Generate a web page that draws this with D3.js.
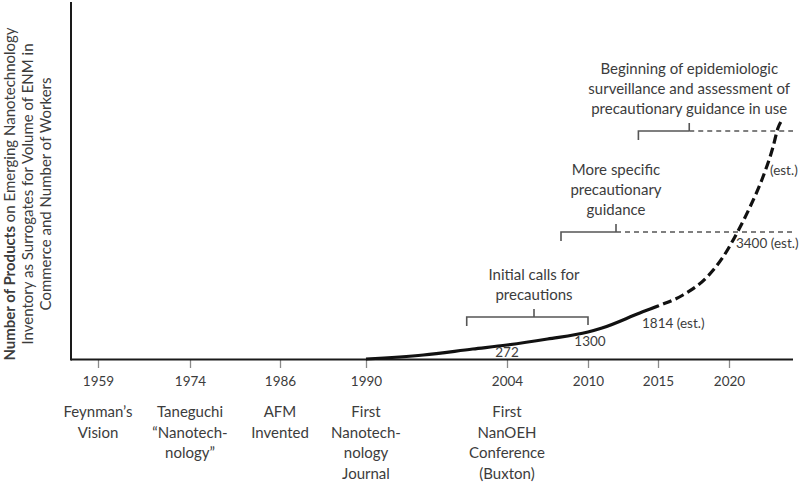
<!DOCTYPE html>
<html><head><meta charset="utf-8">
<script src="https://cdn.jsdelivr.net/npm/d3@7/dist/d3.min.js"></script>
<style>
body{margin:0;background:#fff;}
svg text{font-family:Lato,"Open Sans",sans-serif;fill:#3c3c3c;}
</style></head>
<body><svg id="c" width="800" height="483"></svg>
<script>
// ---- data ----
const tickYears = [1959, 1974, 1986, 1990, 2004, 2010, 2015, 2020];
const eventLabels = [
  ["Feynman\u2019s", "Vision"],
  ["Taneguchi", "\u201cNanotech-", "nology\u201d"],
  ["AFM", "Invented"],
  ["First", "Nanotech-", "nology", "Journal"],
  ["First", "NanOEH", "Conference", "(Buxton)"],
  [], [], []
];
// schematic curve height (relative units) vs. year
const curveYears  = [1990, 1995.7, 2000.6, 2004, 2007, 2010, 2011, 2013.7, 2015, 2016.76, 2018.45, 2019.58, 2020.56, 2021.48, 2022.39, 2023.1, 2023.45, 2023.73];
const curveValues = [0, 4, 10, 14, 20, 27, 31, 46, 53, 64, 82, 102, 126, 152, 182, 212, 231, 239];
const estimateFrom = 2015; // dashed (estimated) after this year
// value labels on the curve
const labelYears = [2004, 2010, 2015, 2020.56, 2022.39];
const labelTexts = ["272", "1300", "1814 (est.)", "3400 (est.)", "(est.)"];
// annotation brackets: start, mid, end year, level (same units as curve)
const bracketStart = [2000, 2008, 2013.6];
const bracketMid   = [2006, 2012, 2017.2];
const bracketEnd   = [2010, 2012, 2017.2];
const bracketLevel = [42, 127, 228];
const bracketDashed = [false, true, true];
const bracketTexts = [
  ["Initial calls for", "precautions"],
  ["More specific", "precautionary", "guidance"],
  ["Beginning of epidemiologic", "surveillance and assessment of", "precautionary guidance in use"]
];
const yTitleBold = ["Number of Products", "", ""];
const yTitleText = [" on Emerging Nanotechnology", "Inventory as Surrogates for Volume of ENM in", "Commerce and Number of Workers"];

// ---- chart ----
const svg = d3.select("#c");
const x0 = 71, x1 = 793, yBase = 359, yTop = 2;
const x = d3.scaleLinear()
  .domain(tickYears)
  .range([98, 190, 280, 366, 507, 588, 658, 729]);
const y = d3.scaleLinear().domain([0, 357]).range([yBase, yTop]);

// axis with ticks
const axis = d3.axisBottom(x).tickValues(tickYears).tickFormat(d3.format("d"))
  .tickSize(8).tickPadding(8);
const gx = svg.append("g").attr("transform", `translate(0,${yBase + 1})`).call(axis);
gx.select(".domain").remove();
gx.selectAll(".tick line").attr("stroke", "#8a8a8a").attr("stroke-width", 1.3);
gx.selectAll(".tick text").attr("font-size", 13.5).attr("fill", "#3c3c3c")
  .attr("font-family", "Lato, sans-serif");

// axis lines
svg.append("line").attr("x1", x0).attr("x2", x1).attr("y1", yBase + 0.5).attr("y2", yBase + 0.5)
  .attr("stroke", "#1a1a1a").attr("stroke-width", 2);
svg.append("line").attr("x1", x0).attr("x2", x0).attr("y1", yTop).attr("y2", yBase + 1.5)
  .attr("stroke", "#1a1a1a").attr("stroke-width", 2);

// event labels
tickYears.forEach((yr, i) => {
  const t = svg.append("text").attr("text-anchor", "middle").attr("font-size", 15);
  eventLabels[i].forEach((ln, j) => {
    t.append("tspan").attr("x", x(yr)).attr("y", 417 + j * 20.7).text(ln);
  });
});

// curve: one smooth path, solid before estimateFrom, dashed after (via clips)
const defs = svg.append("defs");
const xs = x(estimateFrom);
defs.append("clipPath").attr("id", "cs").append("rect")
  .attr("x", 0).attr("y", 0).attr("width", xs).attr("height", 483);
defs.append("clipPath").attr("id", "cd").append("rect")
  .attr("x", xs).attr("y", 0).attr("width", 800 - xs).attr("height", 483);
const pts = curveYears.map((d, i) => [d, curveValues[i]]);
const line = d3.line().x(d => x(d[0])).y(d => y(d[1])).curve(d3.curveMonotoneX);
svg.append("path").datum(pts).attr("clip-path", "url(#cs)")
  .attr("d", line).attr("fill", "none").attr("stroke", "#111").attr("stroke-width", 3.2);
svg.append("path").datum(pts.filter(d => d[0] >= estimateFrom - 1.5)).attr("clip-path", "url(#cd)")
  .attr("d", line).attr("fill", "none").attr("stroke", "#111").attr("stroke-width", 3.2)
  .attr("stroke-dasharray", "9,4.5").attr("stroke-dashoffset", 2);

// brackets
const bcol = "#555";
bracketStart.forEach((s, i) => {
  const yy = y(bracketLevel[i]);
  const g = svg.append("g").attr("stroke", bcol).attr("stroke-width", 1.6).attr("fill", "none");
  g.append("path").attr("d",
    `M${x(s)},${yy + 9}V${yy}H${x(bracketEnd[i])}` + (bracketDashed[i] ? "" : `V${yy + 8}`));
  g.append("line").attr("x1", x(bracketMid[i])).attr("x2", x(bracketMid[i]))
    .attr("y1", yy).attr("y2", yy - 8);
  if (bracketDashed[i]) {
    g.append("line").attr("x1", x(bracketMid[i])).attr("x2", x1).attr("y1", yy).attr("y2", yy)
      .attr("stroke-dasharray", "5,4").attr("stroke-width", 1.4);
  }
  const t = svg.append("text").attr("text-anchor", "middle").attr("font-size", 15);
  const n = bracketTexts[i].length;
  bracketTexts[i].forEach((ln, j) => {
    t.append("tspan").attr("x", x(bracketMid[i]))
      .attr("y", yy - 17 - (n - 1 - j) * 20).text(ln);
  });
});

// value labels
const lblAnchor = ["middle", "middle", "start", "start", "start"];
const lblOffsets = [[0, 12], [2, 14], [-16, 22], [-1, 15], [7, -2]];
const curveAt = yr => {
  for (let k = 1; k < pts.length; k++) if (yr <= pts[k][0]) {
    const a = pts[k - 1], b = pts[k], t = (yr - a[0]) / ((b[0] - a[0]) || 1);
    return a[1] + t * (b[1] - a[1]);
  }
  return pts[pts.length - 1][1];
};
labelYears.forEach((yr, i) => {
  svg.append("text").attr("text-anchor", lblAnchor[i]).attr("font-size", 13.5)
    .attr("x", x(yr) + lblOffsets[i][0]).attr("y", y(curveAt(yr)) + lblOffsets[i][1])
    .text(labelTexts[i]);
});

// y title (rotated), one text element per line, centred explicitly
const bx = [15, 33, 51];
yTitleText.forEach((ln, j) => {
  const t = svg.append("text").attr("text-anchor", "start").attr("font-size", 15)
    .attr("transform", `translate(${bx[j]},194) rotate(-90)`);
  if (yTitleBold[j]) t.append("tspan").attr("font-weight", "bold").text(yTitleBold[j]);
  t.append("tspan").text(ln);
  const w = t.node().getComputedTextLength();
  t.attr("x", -w / 2);
});
</script></body></html>
